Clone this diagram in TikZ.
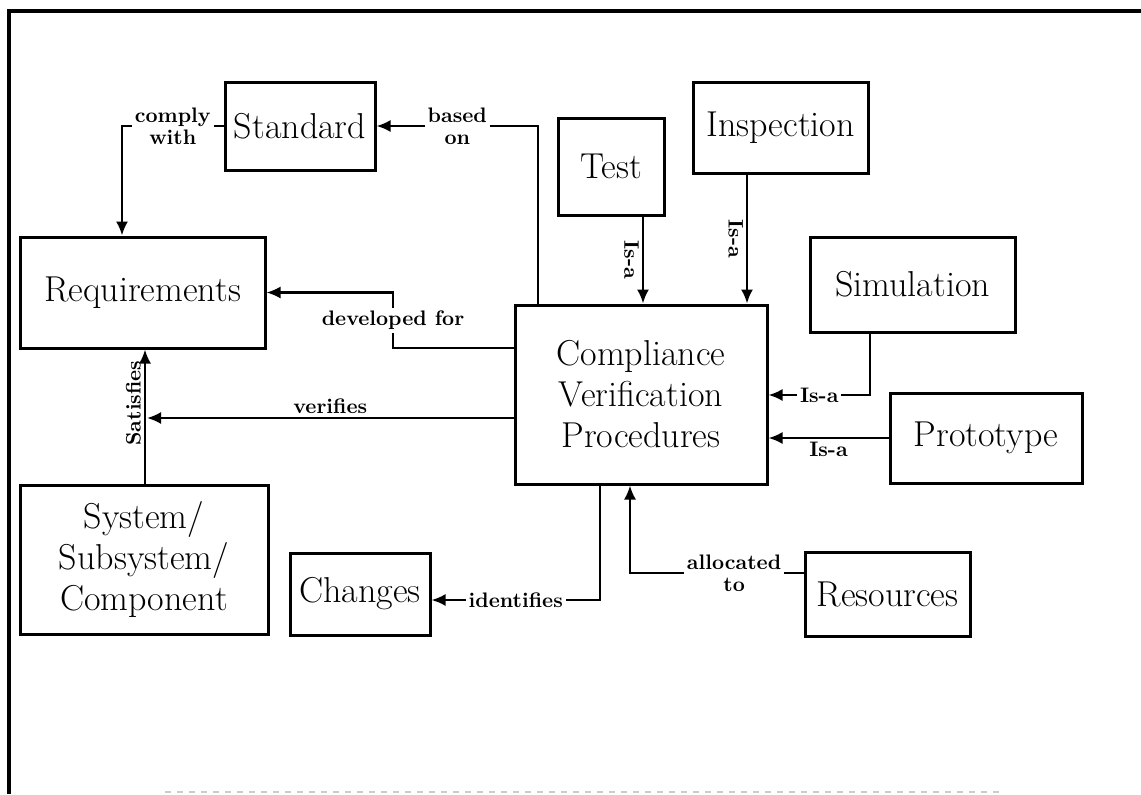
\documentclass[tikz,border=0pt]{standalone}
\usepackage{amsmath}
\usepackage{tikz}
\usetikzlibrary{arrows.meta}

\begin{document}
\begin{tikzpicture} [x=0.5pt,y=-0.5pt,>={Latex[length=7pt,width=6pt]},
    block/.style={draw,line width=1.5pt,inner sep=0pt,align=center,
                  font=\fontsize{18}{20.5}\selectfont},
    rel/.style={fill=white,inner sep=1.5pt,align=center,
                font=\bfseries\fontsize{10.5}{11}\selectfont},
    link/.style={line width=1.1pt}]
    \useasboundingbox (0,0) rectangle (1141,794);
                      \draw [line width=1.6pt] (9,794) -- (9,11) -- (1141,11); % frame
                      \draw [gray!40,line width=1pt,dashed] (165,792) -- (1000,792);
                     % boxes
    \node[block,minimum width=75pt,minimum height=44pt] (std) at (300,126) {Standard};
    \node[block,minimum width=122.5pt,minimum height=55.5pt] (req) at (142.5,292.5) {Requirements};
    \node[block,minimum width=53pt,minimum height=48.5pt] (test) at (611,166.5) {Test};
    \node[block,minimum width=87.5pt,minimum height=45.5pt] (insp) at (780.5,127.5) {Inspection};
    \node[block,minimum width=102.5pt,minimum height=47.5pt] (sim) at (912.5,284.5) {Simulation};
    \node[block,minimum width=126pt,minimum height=89.5pt] (cvp) at (641,394.5) {Compliance\\Verification\\Procedures}; % centre
    \node[block,minimum width=96pt,minimum height=45pt] (proto) at (986,438) {Prototype};
    \node[block,minimum width=124pt,minimum height=74.5pt] (sys) at (144,559.5) {System/\\Subsystem/\\Component};
    \node[block,minimum width=70pt,minimum height=41pt] (chg) at (360,594) {Changes};
    \node[block,minimum width=82.5pt,minimum height=42pt] (res) at (887.5,594) {Resources};

    % bends
    \coordinate (cw) at (122,126); % comply with
    \coordinate (bo) at (538,126); % based on
    \coordinate (tx) at (643,0);
    \coordinate (ix) at (747,0);
    \coordinate (sx) at (145,0);
    \coordinate (vf) at (147,418); % on satisfies line
    \coordinate (df) at (393,348);
    \coordinate (sm) at (870,395);
    \coordinate (id) at (600,600);
    \coordinate (al) at (630,573);

    \draw [link,->] (std.west) -- node[rel]{comply\\with} (cw) -- (cw |- req.north);
    \draw [link,->] (cvp.north -| bo) -- (bo) -- node[rel]{based\\on} (std.east);
    \draw [link,->] (test.south -| tx) -- node[rel,rotate=-90,below,fill=none]{Is-a} (cvp.north -| tx);
    \draw [link,->] (insp.south -| ix) -- node[rel,rotate=-90,below,fill=none]{Is-a} (cvp.north -| ix);
    \draw [link,->] (sys.north -| sx) -- node[rel,pos=0.6,rotate=90,above,fill=none]{Satisfies} (req.south -| sx);
    \draw [link,->] (cvp.west |- vf) -- node[rel,above,fill=none]{verifies} (vf);
    \draw [link,->] (cvp.west |- df) -- (df) -- node[rel]{developed for} (df |- req.east) -- (req.east);
    \draw [link,->] (sim.south -| sm) -- (sm) -- node[rel]{Is-a} (cvp.east |- sm);
    \draw [link,->] (proto.west) -- node[rel,below,fill=none]{Is-a} (cvp.east |- proto.west);
    \draw [link,->] (cvp.south -| id) -- (id) -- node[rel]{identifies} (chg.east |- id);
    \draw [link,->] (res.west |- al) -- node[rel,pos=0.4]{allocated\\to} (al) -- (cvp.south -| al);
\end{tikzpicture}
\end{document}
